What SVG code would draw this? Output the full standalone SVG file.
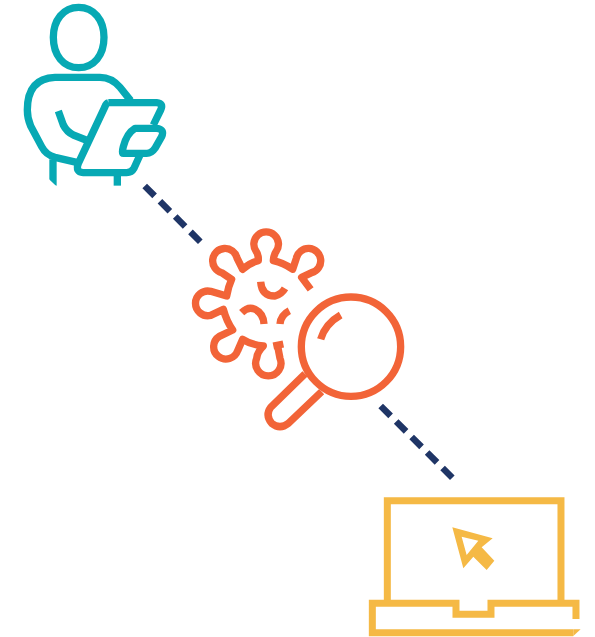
<svg xmlns="http://www.w3.org/2000/svg" width="595" height="637" viewBox="0 0 595 637">
<style>
.i{fill:none;stroke-width:22;stroke-linejoin:round}
.t{stroke:#07a9b4}.o{stroke:#f26438}.y{stroke:#f5b945;stroke-linejoin:miter;stroke-width:21}
.c{fill:none;stroke:#1f3566;stroke-width:6.5}
</style>
<rect width="595" height="637" fill="#fff"/>
<g id="connectors">
<path class="c" d="M144.7 186L200.3 241.7" stroke-dasharray="14 7.6"/>
<path class="c" d="M380.7 406L452.3 477.7" stroke-dasharray="14 7.9"/>
</g>
<g id="person" transform="translate(10 0) scale(.3333)">
<path class="i t" d="M206 22C252 22 282 60 282 112C282 166 252 203 206 203C160 203 130 166 130 112C130 60 160 22 206 22Z"/>
<path class="i t" d="M362 302L330 262Q305 232 270 232L135 232Q52 235 52 330Q52 355 62 378L95 440Q108 465 135 472L200 487"/>
<path class="i t" d="M145 333L160 375Q170 395 190 405L228 420"/>
<path class="i t" d="M129 478V557"/>
<path fill="#fff" d="M114 535L114 560L141 560Z"/>
<path class="i t" d="M322 520V557"/>
<path class="i t" d="M295 308L440 308Q462 310 452 330L430 375M295 308Q288 310 285 320L205 490Q195 516 220 518L350 518Q365 518 372 505L390 465"/>
<path class="i t" d="M375 385L440 385Q465 388 455 410L435 445Q425 460 410 460L340 460Q335 460 340 440Q350 400 375 385Z"/>
</g>
<g id="virus" transform="translate(180 220) scale(.3333)">
<path class="i o" d="M392 208L365 172L395 158A37 37 0 1 0 349 115L338 148Q310 128 280 122Q281 105 288 95A37 37 0 1 0 229 95Q236 105 235 122Q210 128 188 148L171 114A37 37 0 1 0 125 158L155 178Q145 200 140 228L92 214A37 37 0 1 0 92 286L130 268Q140 305 158 330L118 349A37 37 0 1 0 173 392L188 358Q215 375 250 378Q232 395 230 415A38 38 0 1 0 300 415Q296 395 293 378M280 378L310 372"/>
<path class="i o" d="M242 185Q245 228 285 228Q305 222 315 205"/>
<path class="i o" d="M185 278Q205 258 225 268Q250 280 252 312"/>
<path class="i o" d="M300 312Q302 285 328 272"/>
<circle class="i o" cx="513" cy="380" r="149"/>
<path class="i o" d="M422 358Q435 312 482 285"/>
<path class="i o" d="M375 462L272 562Q255 585 275 610Q300 630 325 610L425 515"/>
</g>
<g id="laptop" transform="translate(360 490) scale(.3333)">
<path class="i y" d="M82 335V32H603V335"/>
<path class="i y" d="M648 387V340H393V373H288V340H37V428H640"/>
<path fill="#f5b945" d="M640 418H662L640 438Z"/>
<path fill="#f5b945" fill-rule="evenodd" d="M277 112L398 145L365 172L403 212L380 240L340 200L310 235ZM305 140L320 195L355 152Z"/>
</g>
</svg>
